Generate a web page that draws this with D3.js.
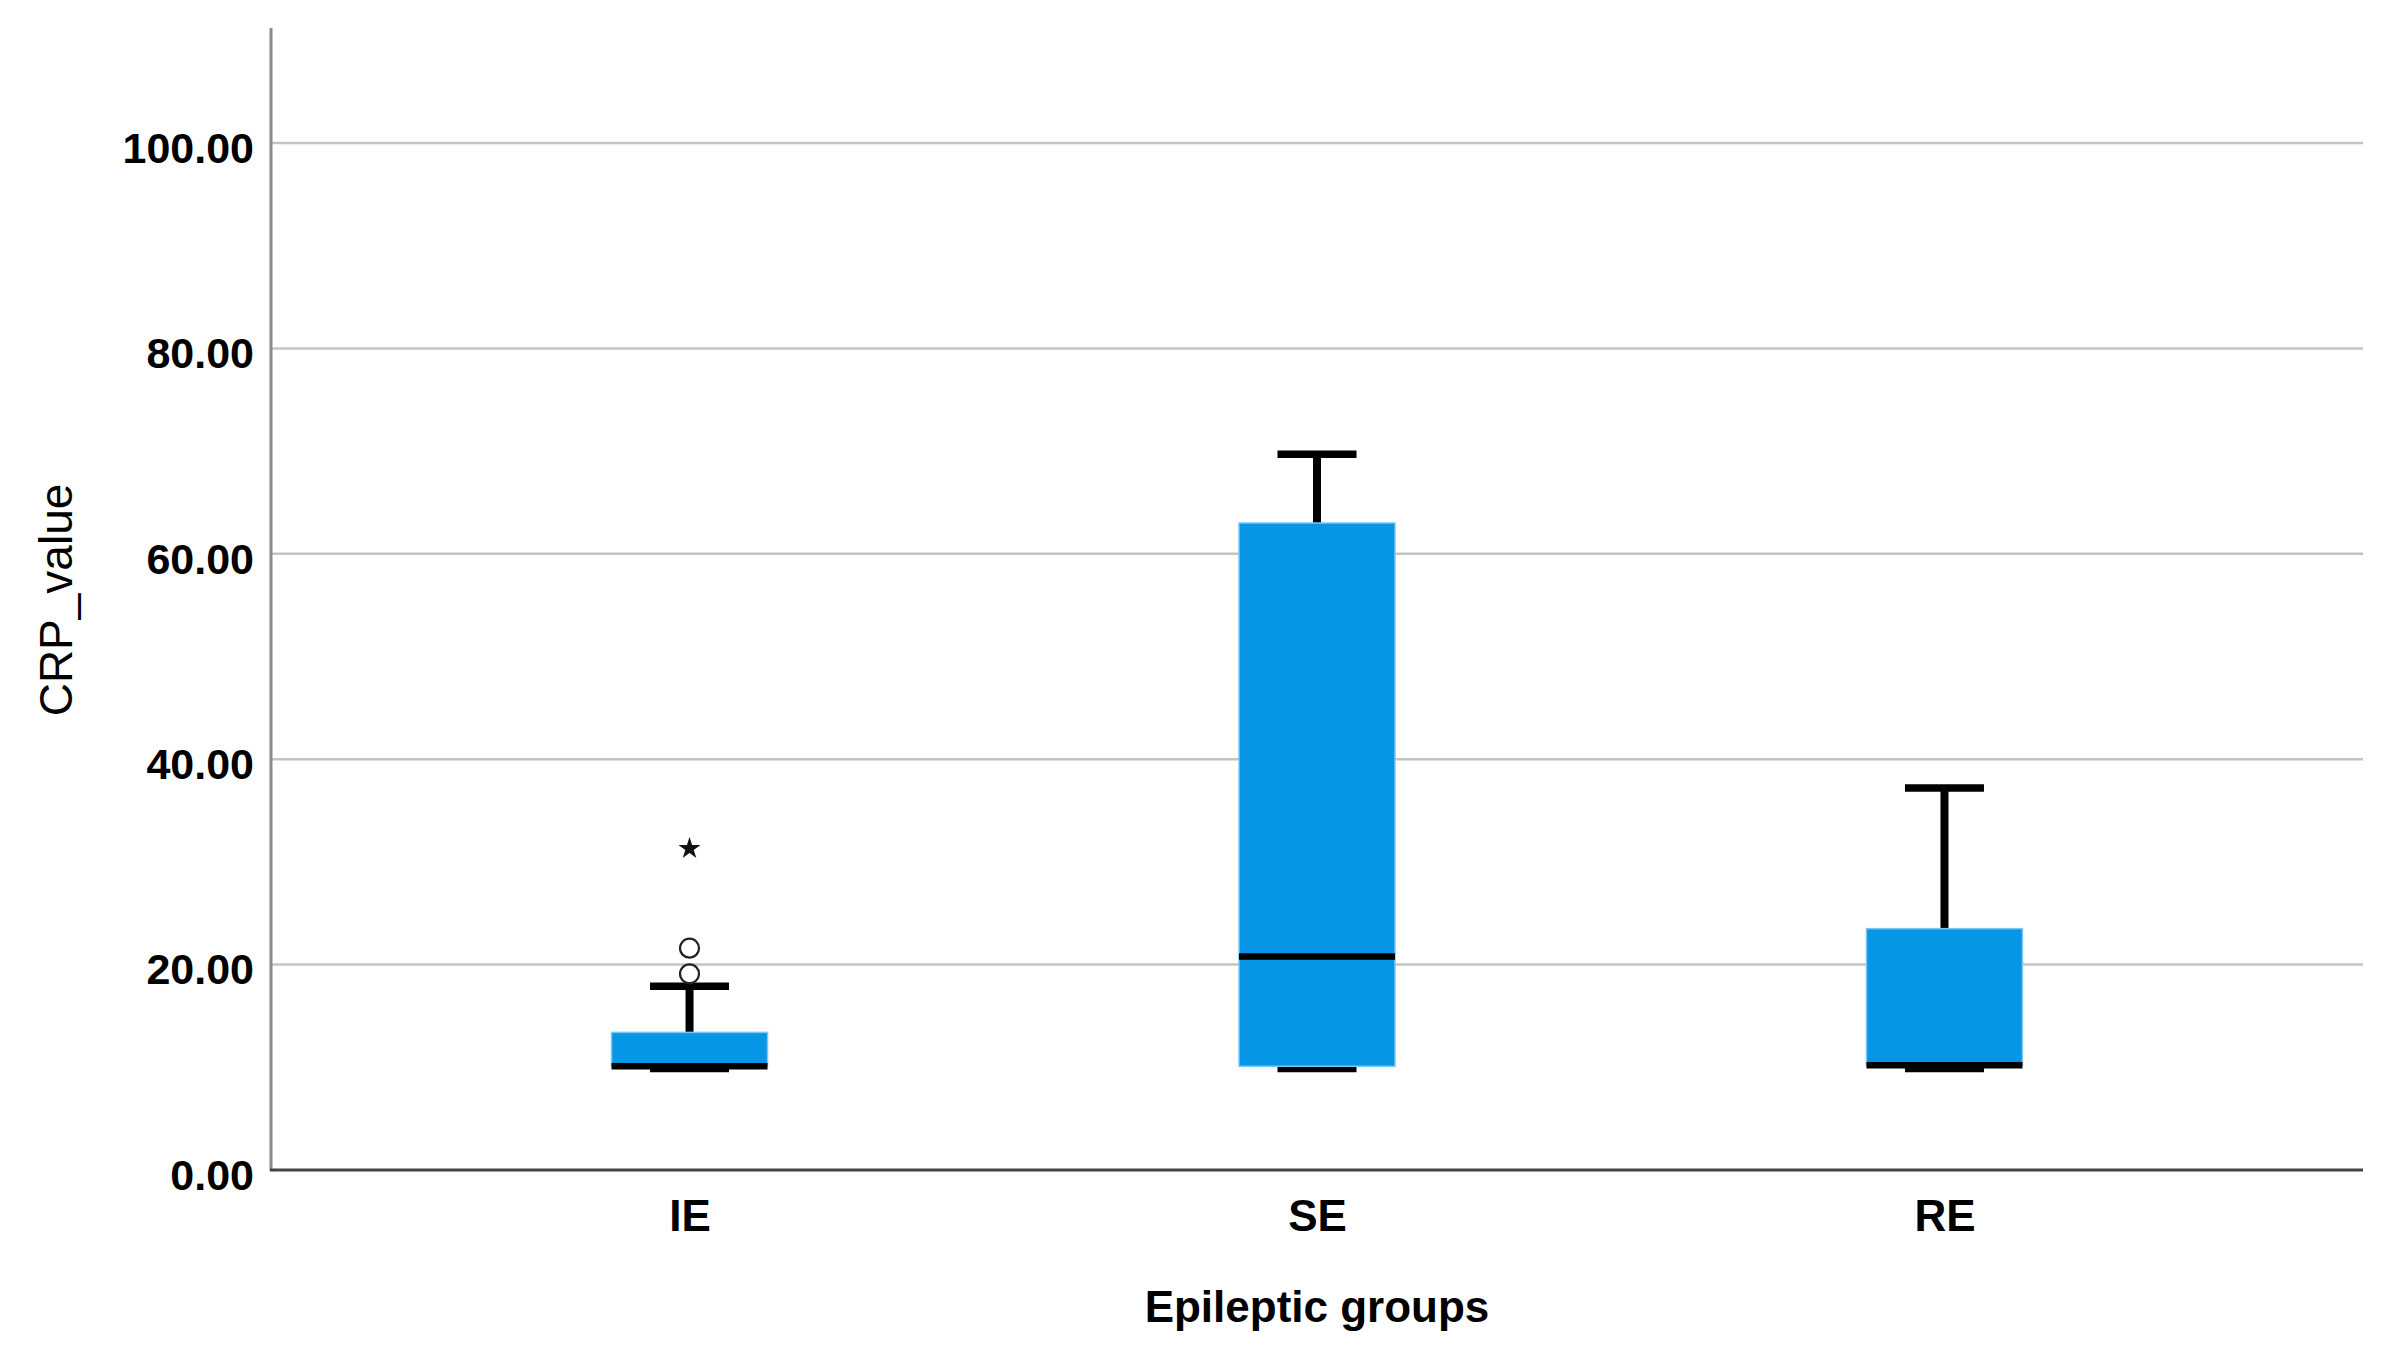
<!DOCTYPE html>
<html>
<head>
<meta charset="utf-8">
<script src="https://cdn.jsdelivr.net/npm/d3@7"></script>
<style>
  html, body { margin: 0; padding: 0; background: #fff; }
  svg { display: block; }
  text { font-family: "Liberation Sans", Arial, sans-serif; fill: #000; }
</style>
</head>
<body>
<svg id="chart" width="2392" height="1365"></svg>
<script>
// ---- data ----
const categories   = ["IE", "SE", "RE"];
const whiskerLow   = [9.8, 9.8, 9.8];
const q1           = [10.1, 10.1, 10.2];
const median       = [10.1, 20.8, 10.2];
const q3           = [13.4, 63.0, 23.5];
const whiskerHigh  = [17.9, 69.7, 37.2];
const outlierGroup = ["IE", "IE"];
const outlierValue = [19.1, 21.6];
const extremeGroup = ["IE"];
const extremeValue = [31.3];
const yTicks       = [0, 20, 40, 60, 80, 100];
const yMax         = 111.2;
const xTitle       = "Epileptic groups";
const yTitle       = "CRP_value";

const svg = d3.select("#chart");
const mLeft = 271, mRight = 2363, mTop = 28, mBottom = 1170;

const x = d3.scalePoint().domain(categories).range([mLeft, mRight]).padding(0.667);
const y = d3.scaleLinear().domain([0, yMax]).range([mBottom, mTop]);

const boxW = 156, capW = 79;
const blue = "#0795e6";

// gridlines
svg.append("g").selectAll("line").data(yTicks.filter(d => d > 0)).join("line")
  .attr("x1", mLeft).attr("x2", mRight)
  .attr("y1", d => y(d)).attr("y2", d => y(d))
  .attr("stroke", "#c4c4c4").attr("stroke-width", 2.5);

// y axis labels via d3 axis
const yAxis = svg.append("g").attr("transform", `translate(${mLeft},0)`)
  .call(d3.axisLeft(y).tickValues(yTicks).tickFormat(d3.format(".2f")).tickSize(0).tickPadding(17));
yAxis.select(".domain").remove();
yAxis.selectAll("text")
  .attr("font-size", 43).attr("font-weight", "bold")
  .attr("font-family", "Liberation Sans, Arial, sans-serif")
  .attr("dy", "0.45em");

// x axis labels
const xAxis = svg.append("g").attr("transform", `translate(0,${mBottom})`)
  .call(d3.axisBottom(x).tickSize(0).tickPadding(30));
xAxis.select(".domain").remove();
xAxis.selectAll("text")
  .attr("font-size", 44).attr("font-weight", "bold")
  .attr("font-family", "Liberation Sans, Arial, sans-serif")
  .attr("dy", "0.71em");

// axis lines
svg.append("line").attr("x1", mLeft).attr("x2", mLeft).attr("y1", mTop).attr("y2", mBottom + 1)
  .attr("stroke", "#8a8a8a").attr("stroke-width", 3);
svg.append("line").attr("x1", mLeft - 1).attr("x2", mRight).attr("y1", mBottom).attr("y2", mBottom)
  .attr("stroke", "#444").attr("stroke-width", 3);

const idx = d3.range(categories.length);
const g = svg.append("g");

// whiskers
g.selectAll(".wup").data(idx).join("line")
  .attr("x1", i => x(categories[i])).attr("x2", i => x(categories[i]))
  .attr("y1", i => y(q3[i])).attr("y2", i => y(whiskerHigh[i]))
  .attr("stroke", "#000").attr("stroke-width", 8);
g.selectAll(".wlo").data(idx).join("line")
  .attr("x1", i => x(categories[i])).attr("x2", i => x(categories[i]))
  .attr("y1", i => y(q1[i])).attr("y2", i => y(whiskerLow[i]))
  .attr("stroke", "#000").attr("stroke-width", 8);
g.selectAll(".capHi").data(idx).join("line")
  .attr("x1", i => x(categories[i]) - capW / 2).attr("x2", i => x(categories[i]) + capW / 2)
  .attr("y1", i => y(whiskerHigh[i])).attr("y2", i => y(whiskerHigh[i]))
  .attr("stroke", "#000").attr("stroke-width", 7.5);
g.selectAll(".capLo").data(idx).join("line")
  .attr("x1", i => x(categories[i]) - capW / 2).attr("x2", i => x(categories[i]) + capW / 2)
  .attr("y1", i => y(whiskerLow[i])).attr("y2", i => y(whiskerLow[i]))
  .attr("stroke", "#000").attr("stroke-width", 6);

// boxes
g.selectAll(".box").data(idx).join("rect")
  .attr("x", i => x(categories[i]) - boxW / 2)
  .attr("width", boxW)
  .attr("y", i => y(q3[i]))
  .attr("height", i => y(q1[i]) - y(q3[i]))
  .attr("fill", blue)
  .attr("stroke", "#7cc8f5").attr("stroke-width", 1.5);

// medians
g.selectAll(".med").data(idx).join("line")
  .attr("x1", i => x(categories[i]) - boxW / 2).attr("x2", i => x(categories[i]) + boxW / 2)
  .attr("y1", i => y(median[i])).attr("y2", i => y(median[i]))
  .attr("stroke", "#000").attr("stroke-width", 6.5);

// outliers (circles)
g.selectAll(".out").data(outlierValue).join("circle")
  .attr("cx", (d, i) => x(outlierGroup[i]))
  .attr("cy", d => y(d))
  .attr("r", 9.5)
  .attr("fill", "none").attr("stroke", "#222").attr("stroke-width", 2.2);

// extremes (stars)
g.selectAll(".ext").data(extremeValue).join("path")
  .attr("d", d3.symbol().type(d3.symbolStar).size(150))
  .attr("transform", (d, i) => `translate(${x(extremeGroup[i])},${y(d)})`)
  .attr("fill", "#111");

// titles
svg.append("text")
  .attr("x", (mLeft + mRight) / 2).attr("y", 1322)
  .attr("text-anchor", "middle")
  .attr("font-size", 44).attr("font-weight", "bold")
  .text(xTitle);

svg.append("text")
  .attr("transform", `translate(72,600) rotate(-90)`)
  .attr("text-anchor", "middle")
  .attr("font-size", 46)
  .text(yTitle);
</script>
</body>
</html>
